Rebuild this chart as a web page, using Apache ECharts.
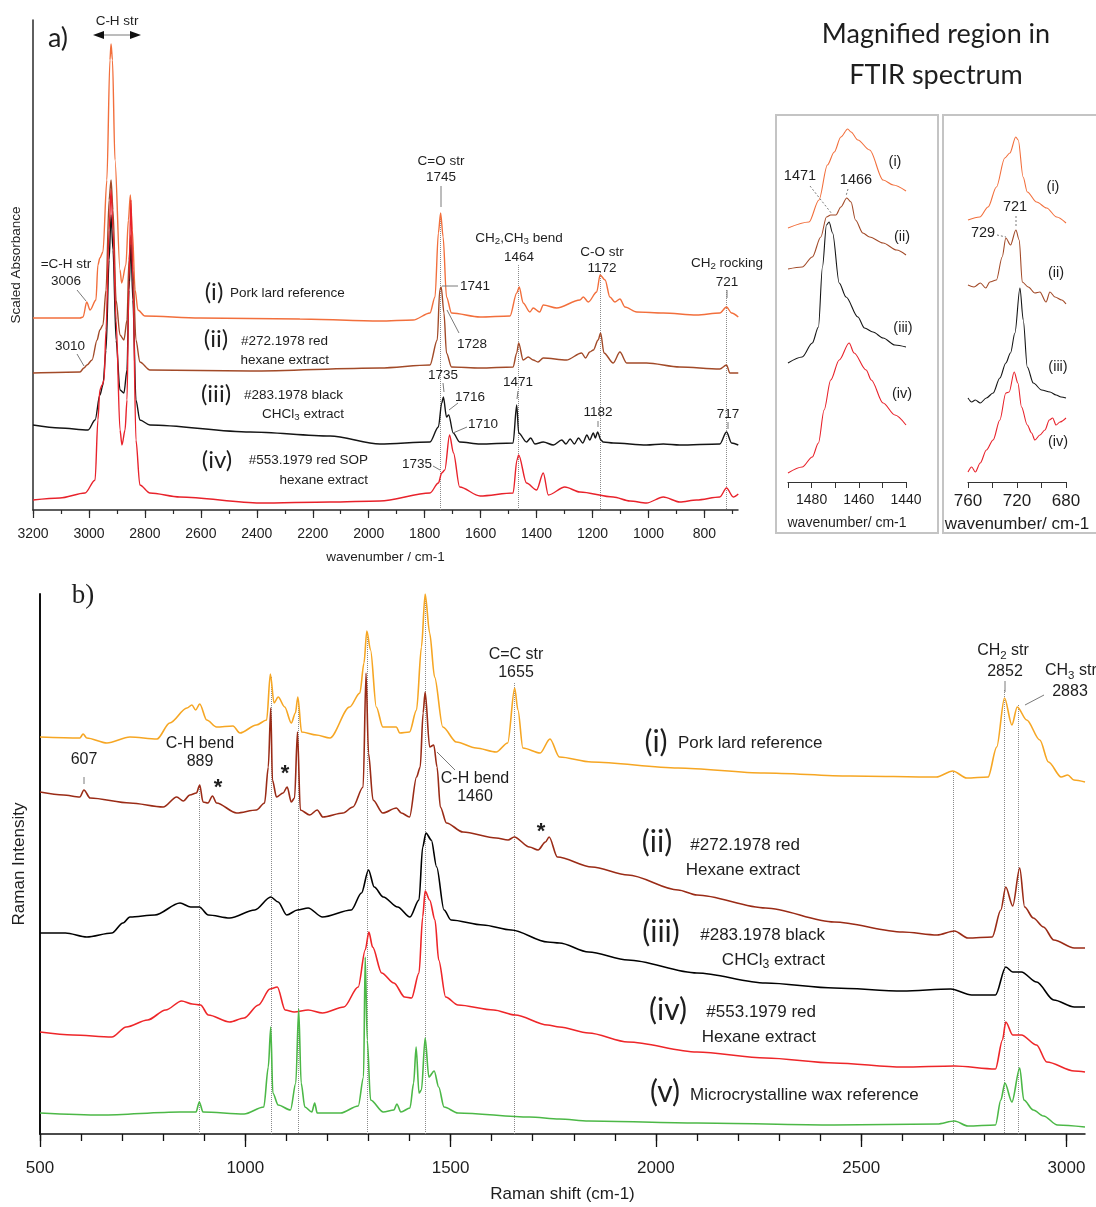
<!DOCTYPE html>
<html><head><meta charset="utf-8">
<script src="https://cdn.jsdelivr.net/npm/echarts@6/dist/echarts.min.js"></script>
<style>html,body{margin:0;padding:0;background:#fff}#c{width:1096px;height:1207px}</style>
</head><body><div id="c"></div>
<script>
// ---------------- FTIR (panel a) : [wavenumber, scaled absorbance (a.u., offset)] ----------------
const ftirLard = [[3200,192],[3032,192],[3021,193],[3008,208],[2996,200],[2975,210],[2968,245],[2961,252],[2950,258],[2936,330],[2925,450],[2921,466],[2916,450],[2907,350],[2889,240],[2883,227],[2868,245],[2859,290],[2852,315],[2845,280],[2835,220],[2825,200],[2800,194],[2603,192],[2246,191],[1960,189],[1841,190],[1781,197],[1763,213],[1751,277],[1743,297],[1734,273],[1722,213],[1704,197],[1602,193],[1495,194],[1471,217],[1462,223],[1448,207],[1424,198],[1412,202],[1389,198],[1376,205],[1328,202],[1245,210],[1233,213],[1215,208],[1185,218],[1173,235],[1155,230],[1138,213],[1120,208],[1102,211],[1084,203],[1042,198],[947,197],[828,195],[745,197],[721,203],[703,197],[679,193]];
const ftir272 = [[3200,137],[3032,138],[3018,142],[3007,145],[2989,150],[2971,170],[2961,180],[2950,185],[2939,220],[2928,310],[2921,330],[2914,300],[2903,210],[2889,175],[2875,170],[2864,190],[2857,250],[2850,275],[2843,240],[2832,170],[2818,148],[2782,140],[2424,139],[1960,142],[1781,145],[1755,170],[1746,220],[1741,223],[1731,197],[1722,157],[1704,143],[1602,142],[1484,143],[1471,157],[1464,167],[1448,150],[1430,153],[1412,150],[1395,148],[1376,152],[1293,150],[1239,157],[1225,152],[1210,158],[1197,160],[1180,170],[1171,177],[1159,157],[1126,147],[1102,158],[1078,147],[1007,147],[888,143],[745,141],[721,145],[709,137],[679,137]];
const ftir283 = [[3200,85],[3104,82],[3003,80],[2978,90],[2961,115],[2950,125],[2939,160],[2928,250],[2921,295],[2914,260],[2903,170],[2889,120],[2875,117],[2864,140],[2857,220],[2850,265],[2843,210],[2832,110],[2818,90],[2782,85],[2424,78],[2138,74],[1960,66],[1781,68],[1751,83],[1739,107],[1733,113],[1722,93],[1714,95],[1698,77],[1675,68],[1602,66],[1484,67],[1471,105],[1464,77],[1436,68],[1421,72],[1406,66],[1376,68],[1340,65],[1310,70],[1295,66],[1280,71],[1265,66],[1250,72],[1235,67],[1220,75],[1210,70],[1197,77],[1190,72],[1182,78],[1170,70],[1162,68],[1126,67],[1007,65],[947,66],[888,65],[745,66],[721,78],[703,67],[679,65]];
const ftir553 = [[3200,10],[3104,12],[3014,17],[2978,30],[2968,90],[2961,120],[2953,125],[2946,130],[2939,180],[2928,280],[2921,320],[2914,280],[2903,190],[2889,80],[2882,65],[2871,80],[2864,110],[2857,230],[2850,310],[2843,230],[2832,70],[2818,25],[2782,17],[2675,13],[2389,7],[2138,8],[1960,9],[1781,17],[1751,27],[1739,37],[1728,40],[1711,75],[1697,57],[1675,23],[1602,14],[1484,17],[1470,50],[1464,55],[1436,27],[1400,20],[1376,37],[1358,15],[1299,23],[1245,18],[1126,13],[1066,9],[1007,7],[947,13],[888,8],[828,10],[745,13],[721,22],[697,13],[679,16]];
const ftirRefLines = [[1745,297],[1464,245],[1172,238],[721,220]];
const ftirMajorTicks = [800,1000,1200,1400,1600,1800,2000,2200,2400,2600,2800,3000,3200];
const ftirMinorTicks = [700,800,900,1000,1100,1200,1300,1400,1500,1600,1700,1800,1900,2000,2100,2200,2300,2400,2500,2600,2700,2800,2900,3000,3100,3200];

// ---------------- FTIR magnified 1490-1440 ----------------
const mag1Lard = [[1490,254],[1481.1,260],[1476.9,282],[1473.3,317],[1470.4,330],[1467.6,345],[1464.7,353],[1463.3,350],[1460.4,342],[1455.4,332],[1449.7,302],[1445.4,297],[1440,291]];
const mag1_272 = [[1490,213],[1484,215],[1479.7,225],[1476.1,245],[1473.7,265],[1471.9,267],[1469.7,267],[1467.6,275],[1465.1,284],[1463.3,280],[1461.4,262],[1458.3,249],[1455.4,245],[1449.7,239],[1444,232],[1440,227]];
const mag1_283 = [[1490,119],[1484,125],[1479.7,139],[1477.1,155],[1475.4,215],[1473.7,257],[1472.6,260],[1471.1,249],[1468.3,199],[1465.4,185],[1460.4,165],[1457.6,154],[1454,150],[1449.7,144],[1444.7,137],[1440,135]];
const mag1_553 = [[1490,9],[1484,15],[1479.7,25],[1477.1,39],[1474.7,72],[1471.9,102],[1468.3,122],[1464.1,139],[1462,129],[1456.9,112],[1454.7,102],[1449.7,79],[1444.7,67],[1440,57]];
const mag1Ticks = [1440,1450,1460,1470,1480,1490];
const mag1Labels = [1440,1460,1480];

// ---------------- FTIR magnified 760-680 ----------------
const mag2Lard = [[760,262],[750.4,265],[743.6,275],[736.8,295],[730,324],[725.8,329],[721,345],[719,342],[715,305],[711.6,290],[704,280],[695.8,274],[687.6,265],[680,259]];
const mag2_272 = [[760,197],[755.1,195],[749.9,199],[745.5,194],[742.2,200],[736.8,202],[732.1,225],[729.1,244],[725.3,237],[720.9,252],[718.2,242],[715.7,200],[710.8,195],[705.4,189],[701.3,190],[696.3,180],[693.1,190],[689,185],[683.5,182],[680,178]];
const mag2_283 = [[760,84],[757,80],[754,82],[750,79],[745,84],[739.5,89],[734,104],[729.1,119],[725.3,129],[721.7,149],[717.6,194],[714.9,162],[711.6,115],[706.7,99],[699.9,92],[693.1,90],[688.1,87],[684,85],[680,84]];
const mag2_553 = [[760,10],[757,15],[754,10],[750,19],[745,32],[739.5,42],[734,62],[729.1,89],[726.4,90],[722.3,110],[719.3,99],[716.3,75],[711.6,57],[708.1,49],[705.4,42],[701.3,47],[697.2,52],[693.6,62],[690.9,64],[688.1,57],[684.9,60],[680,64]];
const mag2Ticks = [680,700,720,740,760];
const mag2Labels = [680,720,760];

// ---------------- Raman (panel b) : [Raman shift, intensity (a.u., offset)] ----------------
const ramanLard = [[500,397],[597,396],[605,400],[614,396],[663,391],[719,397],[785,395],[816,411],[858,426],[870,429],[879,424],[889,430],[906,414],[930,407],[970,408],[987,401],[1027,409],[1052,414],[1061,460],[1070,431],[1080,437],[1096,427],[1112,411],[1122,421],[1128,437],[1137,402],[1173,399],[1206,396],[1254,427],[1279,441],[1289,471],[1296,503],[1305,484],[1319,427],[1335,407],[1368,407],[1376,401],[1400,402],[1417,424],[1429,487],[1438,540],[1449,501],[1461,457],[1481,407],[1514,392],[1562,386],[1611,382],[1639,391],[1656,446],[1664,424],[1676,386],[1718,381],[1742,395],[1765,377],[1843,372],[2054,366],[2264,361],[2473,358],[2683,357],[2723,363],[2757,356],[2809,357],[2830,387],[2849,436],[2867,409],[2880,427],[2903,414],[2935,394],[2956,372],[2987,357],[3003,359],[3018,354],[3045,352]];
const raman272 = [[500,342],[557,339],[597,337],[607,344],[622,336],[719,331],[800,327],[833,337],[849,333],[865,339],[881,341],[889,349],[897,332],[909,331],[920,338],[930,331],[979,321],[1027,324],[1047,331],[1056,367],[1062,426],[1066,354],[1076,337],[1092,341],[1102,347],[1112,332],[1120,336],[1127,402],[1134,324],[1157,319],[1175,324],[1189,317],[1238,321],[1262,327],[1287,347],[1294,461],[1300,381],[1311,334],[1335,321],[1368,326],[1380,321],[1400,317],[1417,357],[1426,367],[1433,421],[1438,442],[1449,387],[1459,389],[1467,367],[1475,327],[1490,311],[1530,302],[1611,296],[1640,294],[1655,297],[1692,287],[1713,284],[1731,292],[1740,297],[1760,277],[1844,267],[1932,259],[2054,244],[2100,239],[2267,226],[2434,212],[2601,202],[2685,199],[2727,203],[2760,196],[2819,197],[2840,224],[2852,247],[2869,228],[2886,266],[2898,227],[2919,216],[2944,207],[2969,194],[3019,186],[3045,186]];
const raman283 = [[500,201],[562,201],[614,197],[675,201],[702,211],[719,217],[780,219],[841,231],[867,227],[888,227],[910,219],[962,216],[1023,224],[1062,237],[1080,232],[1101,219],[1127,224],[1153,226],[1188,217],[1258,224],[1283,241],[1300,264],[1314,247],[1336,237],[1371,227],[1401,217],[1423,234],[1432,287],[1440,301],[1453,294],[1466,267],[1484,224],[1501,214],[1579,209],[1648,204],[1736,192],[1765,191],[1836,182],[1932,174],[2100,161],[2267,151],[2434,146],[2601,143],[2718,145],[2769,139],[2827,139],[2852,167],[2869,162],[2890,162],[2927,152],[2969,134],[3019,127],[3045,127]];
const raman553 = [[500,102],[580,99],[675,97],[710,107],[762,114],[806,124],[845,133],[871,130],[891,129],[910,119],[962,112],[997,116],[1032,129],[1060,145],[1078,147],[1097,124],[1119,122],[1153,124],[1188,121],[1240,127],[1275,147],[1292,184],[1301,202],[1310,187],[1332,161],[1362,151],[1388,137],[1405,136],[1423,161],[1432,217],[1438,243],[1449,234],[1462,214],[1471,174],[1488,137],[1518,129],[1605,124],[1657,119],[1736,109],[1765,107],[1836,101],[1932,92],[2100,82],[2267,76],[2434,71],[2601,67],[2727,68],[2827,65],[2844,94],[2852,112],[2869,99],[2890,99],[2927,89],[2952,72],[3019,63],[3045,62]];
const ramanWax = [[500,21],[649,19],[841,22],[880,22],[888,32],[897,22],[997,20],[1045,27],[1056,67],[1062,107],[1067,41],[1080,29],[1110,24],[1123,51],[1130,125],[1136,51],[1145,27],[1162,22],[1169,31],[1175,21],[1232,21],[1275,28],[1288,57],[1292,177],[1297,94],[1305,34],[1336,22],[1362,24],[1369,30],[1379,22],[1401,26],[1410,51],[1416,87],[1423,41],[1429,44],[1438,96],[1447,57],[1460,63],[1471,47],[1484,27],[1518,21],[1692,17],[1765,15],[1836,13],[2100,11],[2434,9],[2685,10],[2727,13],[2760,8],[2827,9],[2840,34],[2850,51],[2867,32],[2886,66],[2896,34],[2919,24],[2944,18],[2978,9],[3045,7]];
const ramanRefLines = [[889,349],[1063,457],[1130,434],[1296,497],[1438,537],[1655,451],[2724,362],[2848,444],[2883,429]];
const ramanMajorTicks = [500,1000,1500,2000,2500,3000];
const ramanMinorTicks = [500,600,700,800,900,1000,1100,1200,1300,1400,1500,1600,1700,1800,1900,2000,2100,2200,2300,2400,2500,2600,2700,2800,2900,3000];

// ---------------- styling ----------------
const SANS = '"Liberation Sans", Arial, sans-serif';
const HUM = 'Lato, "Open Sans", sans-serif';
const TXT = '#1e1e1e';
const C = {forange:'#f26f3c', fbrown:'#a24a28', fblack:'#151515', fred:'#e8222b',
           rorange:'#f6a623', rbrown:'#9a2b16', rblack:'#000000', rred:'#ee2629', rgreen:'#4cb847'};
const plain = v => String(v);

function line(data, color, xi, yi, w) {
  return {type:'line', data, xAxisIndex:xi, yAxisIndex:yi, showSymbol:false, symbol:'none', z:3,
    smooth:0.3, smoothMonotone:'x', lineStyle:{color, width:w}, itemStyle:{color}, silent:true, animation:false};
}
function refSeries(list, xi, yi) {
  return {type:'line', data:[], xAxisIndex:xi, yAxisIndex:yi, z:1, silent:true,
    markLine:{silent:true, z:1, symbol:['none','none'], label:{show:false}, animation:false,
      lineStyle:{type:'dotted', color:'#8a8a8a', width:1},
      data:list.map(r => [{coord:[r[0], r[1]]},{coord:[r[0], 0]}])}};
}
const sub = (f) => ({fontSize:f*0.72, fontFamily:SANS, fill:TXT, lineHeight:f*0.72, padding:[f*0.55,0,0,0]});
function T(x, y, text, size, opt) {
  opt = opt || {};
  const st = {text, fill:opt.fill||TXT, fontSize:size, fontFamily:opt.font||SANS, fontWeight:opt.weight||'normal',
              align:opt.align||'center', verticalAlign:'middle'};
  if (opt.rich) {
    st.rich = {n:{fontSize:size, fontFamily:opt.font||SANS, fill:TXT, lineHeight:size*1.1}, s:sub(size)};
  }
  return {type:'text', x, y, z:100, silent:true, style:st};
}
function L(x1,y1,x2,y2,dash) {
  return {type:'line', z:99, silent:true, shape:{x1,y1,x2,y2}, style:{stroke:'#7a7a7a', lineWidth:1, lineDash:dash?[2,2]:null}};
}

const graphics = [
  {type:'rect', z:1, silent:true, shape:{x:776,y:115,width:162,height:418}, style:{fill:'none', stroke:'#c4c4c4', lineWidth:2}},
  {type:'rect', z:1, silent:true, shape:{x:943,y:115,width:160,height:418}, style:{fill:'none', stroke:'#c4c4c4', lineWidth:2}},
  // panel a
  T(58, 38, 'a)', 27, {font:HUM}),
  T(117, 21, 'C-H str', 13.5),
  L(100,35,135,35),
  {type:'polygon', z:100, silent:true, shape:{points:[[93,35],[104,31],[104,39]]}, style:{fill:'#111'}},
  {type:'polygon', z:100, silent:true, shape:{points:[[141,35],[130,31],[130,39]]}, style:{fill:'#111'}},
  T(66, 264, '=C-H str', 13.5), T(66, 281, '3006', 13.5), L(77,290,86,301),
  T(70, 346, '3010', 13.5), L(77,354,84,366),
  T(214, 292, '(i)', 24, {font:HUM}), T(230, 293, 'Pork lard reference', 13.5, {align:'left'}),
  T(216, 339, '(ii)', 24, {font:HUM}), T(328, 341, '#272.1978 red', 13.5, {align:'right'}), T(329, 360, 'hexane extract', 13.5, {align:'right'}),
  T(216, 394, '(iii)', 24, {font:HUM}), T(343, 395, '#283.1978 black', 13.5, {align:'right'}),
  T(344, 414, '{n|CHCl}{s|3}{n| extract}', 13.5, {align:'right', rich:true}),
  T(217, 460, '(iv)', 24, {font:HUM}), T(368, 460, '#553.1979 red SOP', 13.5, {align:'right'}), T(368, 480, 'hexane extract', 13.5, {align:'right'}),
  T(441, 161, 'C=O str', 13.5), T(441, 177, '1745', 13.5), L(441,186,441,207),
  T(460, 286, '1741', 13.5, {align:'left'}), L(442,286,458,286),
  T(457, 344, '1728', 13.5, {align:'left'}), L(447,310,459,333),
  T(519, 238, '{n|CH}{s|2}{n|,CH}{s|3}{n| bend}', 13.5, {rich:true}), T(519, 257, '1464', 13.5),
  T(602, 252, 'C-O str', 13.5), T(602, 268, '1172', 13.5),
  T(727, 263, '{n|CH}{s|2}{n| rocking}', 13.5, {rich:true}), T(727, 282, '721', 13.5), L(727,290,727,298),
  T(443, 375, '1735', 13.5), L(443,383,444,392),
  T(455, 397, '1716', 13.5, {align:'left'}), L(449,410,458,403),
  T(468, 424, '1710', 13.5, {align:'left'}), L(453,433,467,427),
  T(518, 382, '1471', 13.5), L(518,391,517,399),
  T(598, 412, '1182', 13.5), L(598,421,598,427),
  T(728, 414, '717', 13.5), L(728,422,728,429),
  T(417, 464, '1735', 13.5), L(433,466,440,470),
  // title
  T(936, 34, 'Magnified region in', 27, {font:HUM}),
  T(936, 75, 'FTIR spectrum', 27, {font:HUM}),
  // inset 1
  T(895, 162, '(i)', 14.5), T(902, 237, '(ii)', 14.5), T(903, 328, '(iii)', 14.5), T(902, 394, '(iv)', 14.5),
  T(800, 176, '1471', 14.5), T(856, 180, '1466', 14.5), L(810,186,832,214,true), L(848,189,846,196,true),
  // inset 2
  T(1053, 187, '(i)', 14.5), T(1015, 207, '721', 14.5), L(1016,216,1016,227,true),
  T(983, 233, '729', 14.5), L(997,235,1006,237,true),
  T(1056, 273, '(ii)', 14.5), T(1058, 367, '(iii)', 14.5), T(1058, 442, '(iv)', 14.5),
  // panel b
  T(83, 596, 'b)', 27, {font:'"Liberation Serif", "DejaVu Serif", serif'}),
  T(84, 760, '607', 16), L(84,777,84,784),
  T(200, 744, 'C-H bend', 16), T(200, 762, '889', 16),
  T(218, 788, '*', 22, {weight:'bold'}), T(285, 774, '*', 22, {weight:'bold'}), T(541, 832, '*', 22, {weight:'bold'}),
  T(475, 779, 'C-H bend', 16), T(475, 797, '1460', 16), L(437,752,455,770),
  T(516, 655, 'C=C str', 16), T(516, 673, '1655', 16),
  T(1003, 651, '{n|CH}{s|2}{n| str}', 16, {rich:true}), T(1005, 672, '2852', 16), L(1005,681,1005,692),
  T(1045, 671, '{n|CH}{s|3}{n| str}', 16, {align:'left', rich:true}), T(1070, 692, '2883', 16), L(1044,695,1025,705),
  T(656, 742, '(i)', 30, {font:HUM}), T(678, 743, 'Pork lard reference', 17, {align:'left'}),
  T(657, 842, '(ii)', 30, {font:HUM}), T(800, 845, '#272.1978 red', 17, {align:'right'}), T(800, 870, 'Hexane extract', 17, {align:'right'}),
  T(661, 932, '(iii)', 30, {font:HUM}), T(825, 935, '#283.1978 black', 17, {align:'right'}),
  T(825, 960, '{n|CHCl}{s|3}{n| extract}', 17, {align:'right', rich:true}),
  T(668, 1010, '(iv)', 30, {font:HUM}), T(816, 1012, '#553.1979 red', 17, {align:'right'}), T(816, 1037, 'Hexane extract', 17, {align:'right'}),
  T(665, 1092, '(v)', 30, {font:HUM}), T(690, 1095, 'Microcrystalline wax reference', 17, {align:'left'})
];

const axLine = (w, c) => ({show:true, lineStyle:{color:c||'#2a2a2a', width:w}});
const noSplit = {show:false};
const chart = echarts.init(document.getElementById('c'), null, {renderer:'canvas'});
chart.setOption({
  animation:false,
  backgroundColor:'#fff',
  grid:[
    {left:33, top:20, width:705, height:490, containLabel:false, outerBoundsMode:'none'},
    {left:788, top:122, width:118, height:360, containLabel:false, outerBoundsMode:'none'},
    {left:968, top:122, width:98, height:360, containLabel:false, outerBoundsMode:'none'},
    {left:40, top:594, width:1045, height:540, containLabel:false, outerBoundsMode:'none'}
  ],
  xAxis:[
    {gridIndex:0, position:'bottom', type:'value', min:680, max:3200, inverse:true, axisLine:axLine(1.5), splitLine:noSplit,
     axisTick:{customValues:ftirMajorTicks, length:8, lineStyle:{color:'#2a2a2a', width:1.2}},
     axisLabel:{customValues:ftirMajorTicks, formatter:plain, fontSize:14, margin:17, color:TXT, fontFamily:SANS},
     name:'wavenumber / cm-1', nameLocation:'middle', nameGap:40, nameTextStyle:{fontSize:13.5, color:TXT, fontFamily:SANS}},
    {gridIndex:0, position:'bottom', type:'value', min:680, max:3200, inverse:true, axisLine:{show:false}, splitLine:noSplit,
     axisTick:{customValues:ftirMinorTicks, length:4, lineStyle:{color:'#2a2a2a', width:1.2}}, axisLabel:{show:false}},
    {gridIndex:1, position:'bottom', type:'value', min:1440, max:1490, inverse:true, axisLine:axLine(1.2,'#333'), splitLine:noSplit,
     axisTick:{customValues:mag1Ticks, length:6, lineStyle:{color:'#333'}},
     axisLabel:{customValues:mag1Labels, formatter:plain, fontSize:14, margin:11, color:TXT, fontFamily:SANS},
     name:'wavenumber/ cm-1', nameLocation:'middle', nameGap:34, nameTextStyle:{fontSize:14, color:TXT, fontFamily:SANS}},
    {gridIndex:2, position:'bottom', type:'value', min:680, max:760, inverse:true, axisLine:axLine(1.2,'#333'), splitLine:noSplit,
     axisTick:{customValues:mag2Ticks, length:6, lineStyle:{color:'#333'}},
     axisLabel:{customValues:mag2Labels, formatter:plain, fontSize:17, margin:11, color:TXT, fontFamily:SANS},
     name:'wavenumber/ cm-1', nameLocation:'middle', nameGap:34, nameTextStyle:{fontSize:17, color:TXT, fontFamily:SANS}},
    {gridIndex:3, position:'bottom', type:'value', min:500, max:3045, axisLine:axLine(1.5,'#111'), splitLine:noSplit,
     axisTick:{customValues:ramanMajorTicks, length:13, lineStyle:{color:'#111', width:1.3}},
     axisLabel:{customValues:ramanMajorTicks, formatter:plain, fontSize:17, margin:26, color:TXT, fontFamily:SANS},
     name:'Raman shift (cm-1)', nameLocation:'middle', nameGap:52, nameTextStyle:{fontSize:17, color:TXT, fontFamily:SANS}},
    {gridIndex:3, position:'bottom', type:'value', min:500, max:3045, axisLine:{show:false}, splitLine:noSplit,
     axisTick:{customValues:ramanMinorTicks, length:7, lineStyle:{color:'#111', width:1.3}}, axisLabel:{show:false}}
  ],
  yAxis:[
    {gridIndex:0, position:'left', type:'value', min:0, max:490, axisLine:axLine(1.5), axisTick:{show:false}, axisLabel:{show:false}, splitLine:noSplit,
     name:'Scaled Absorbance', nameLocation:'middle', nameGap:10, nameTextStyle:{fontSize:13.5, color:TXT, fontFamily:SANS}},
    {gridIndex:1, type:'value', min:0, max:360, show:false},
    {gridIndex:2, type:'value', min:0, max:360, show:false},
    {gridIndex:3, position:'left', type:'value', min:0, max:540, axisLine:axLine(2,'#111'), axisTick:{show:false}, axisLabel:{show:false}, splitLine:noSplit,
     name:'Raman Intensity', nameLocation:'middle', nameGap:12, nameTextStyle:{fontSize:17, color:TXT, fontFamily:SANS}}
  ],
  series:[
    refSeries(ftirRefLines, 0, 0),
    line(ftirLard, C.forange, 0, 0, 1.4),
    line(ftir272, C.fbrown, 0, 0, 1.4),
    line(ftir283, C.fblack, 0, 0, 1.4),
    line(ftir553, C.fred, 0, 0, 1.4),
    line(mag1Lard, C.forange, 2, 1, 1.1),
    line(mag1_272, C.fbrown, 2, 1, 1.1),
    line(mag1_283, C.fblack, 2, 1, 1.1),
    line(mag1_553, C.fred, 2, 1, 1.1),
    line(mag2Lard, C.forange, 3, 2, 1.1),
    line(mag2_272, C.fbrown, 3, 2, 1.1),
    line(mag2_283, C.fblack, 3, 2, 1.1),
    line(mag2_553, C.fred, 3, 2, 1.1),
    refSeries(ramanRefLines, 4, 3),
    line(ramanLard, C.rorange, 4, 3, 1.6),
    line(raman272, C.rbrown, 4, 3, 1.6),
    line(raman283, C.rblack, 4, 3, 1.6),
    line(raman553, C.rred, 4, 3, 1.6),
    line(ramanWax, C.rgreen, 4, 3, 1.6)
  ],
  graphic:graphics
});
</script></body></html>
